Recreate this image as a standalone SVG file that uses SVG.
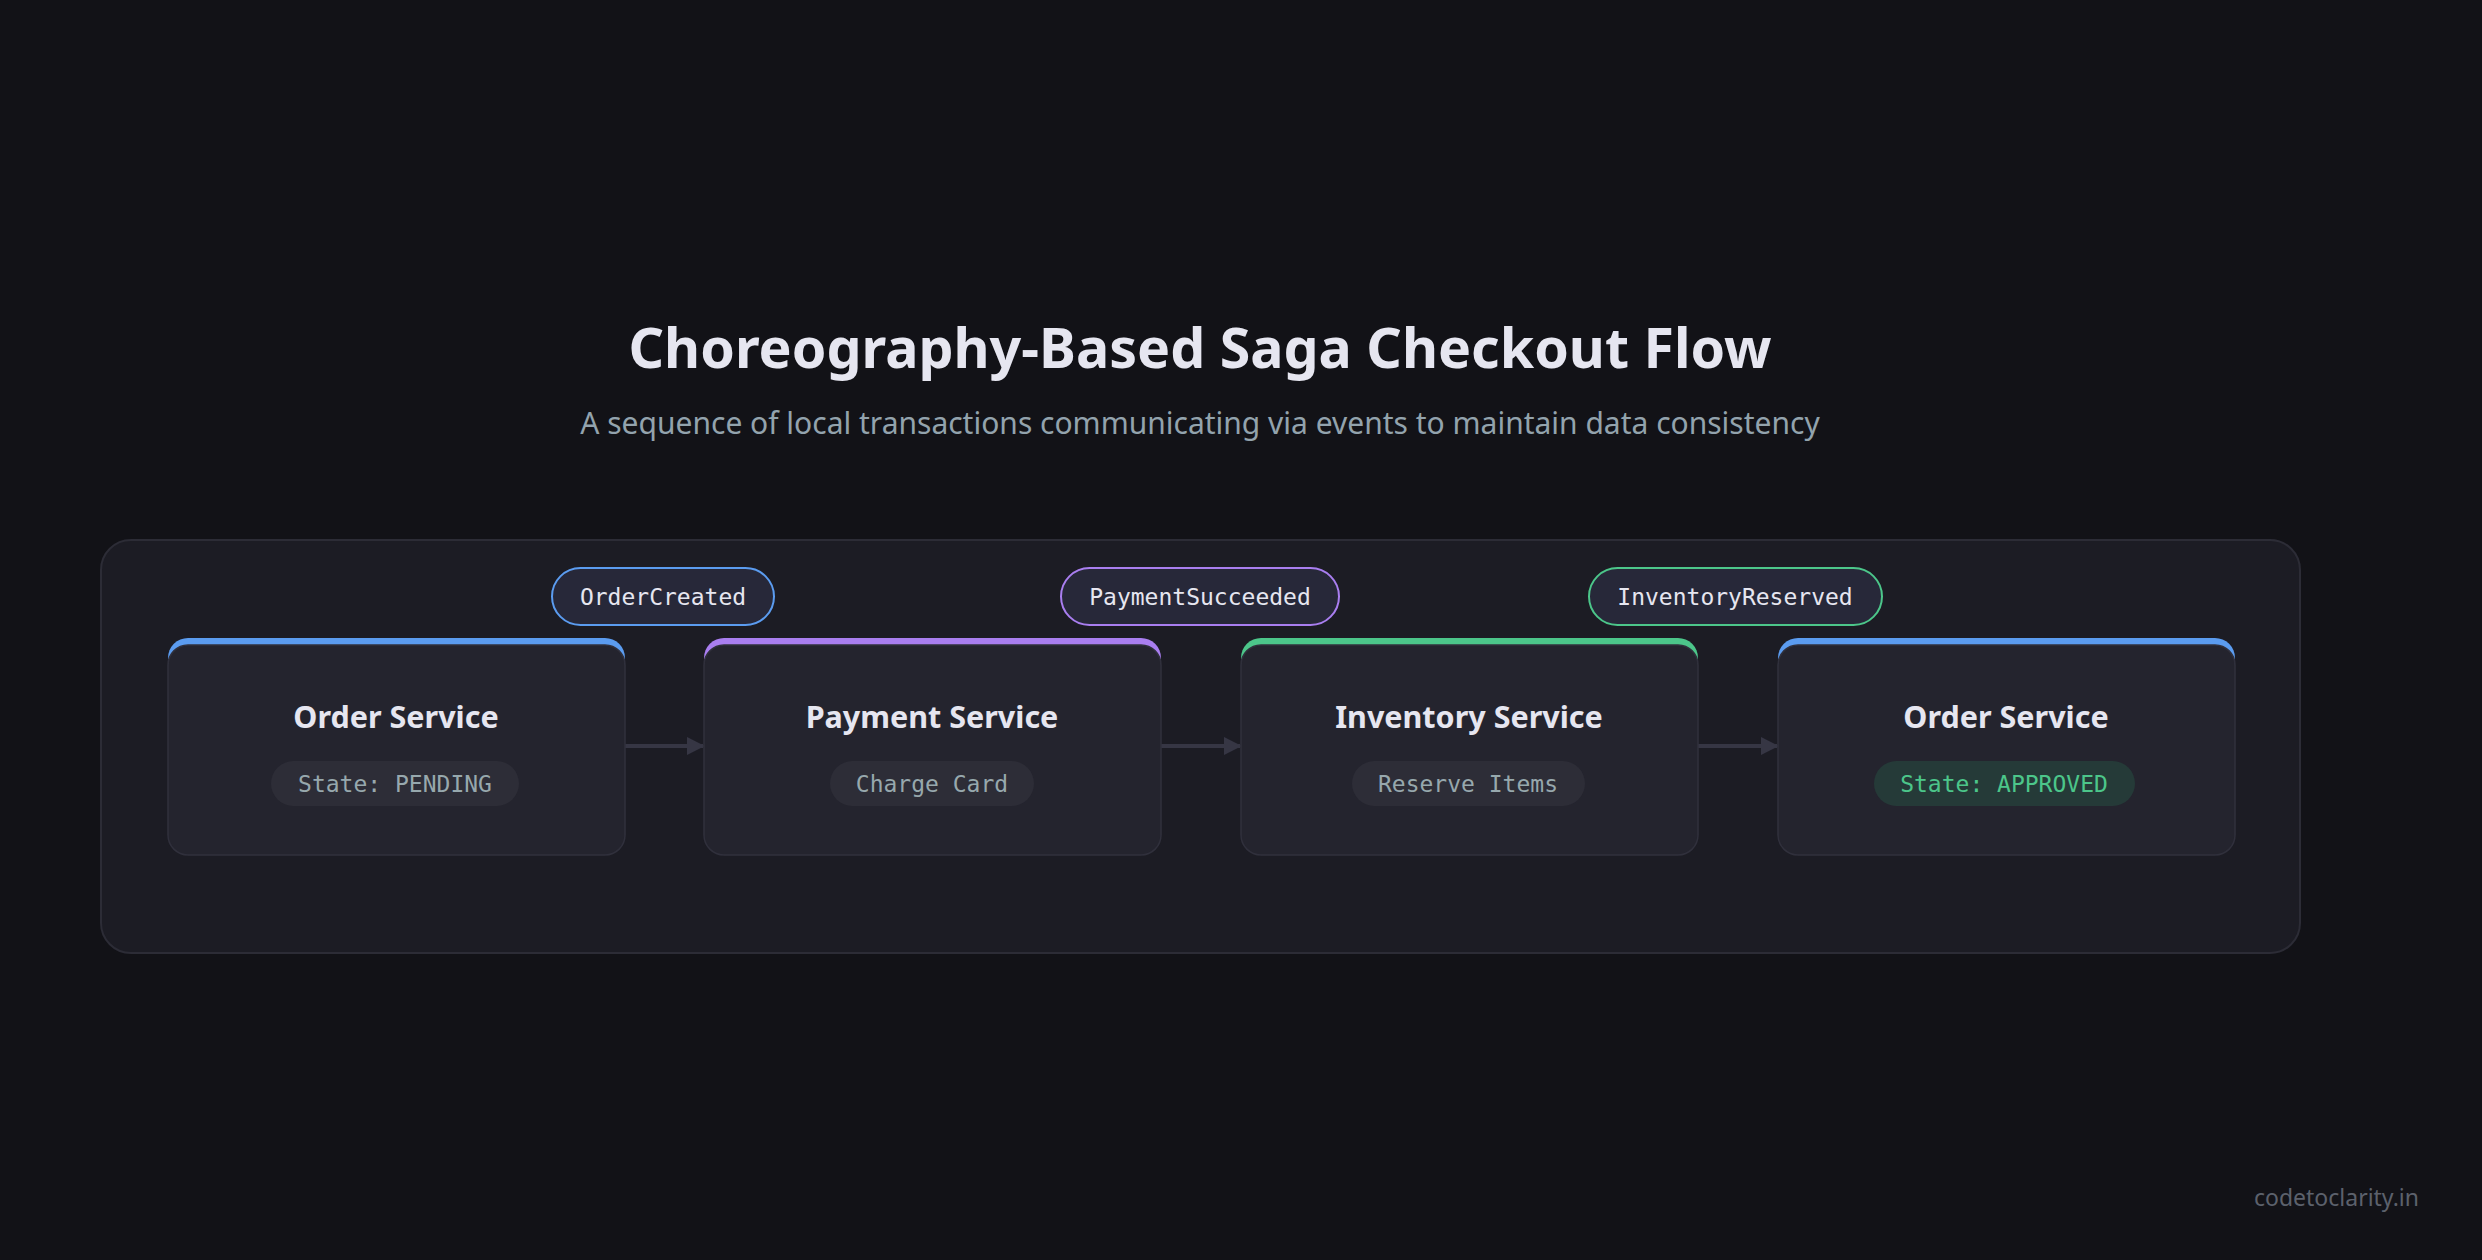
<svg xmlns="http://www.w3.org/2000/svg" width="2482" height="1260" viewBox="0 0 2482 1260">
<defs>
<style>
.title{font-family:"Noto Sans","Open Sans",sans-serif;font-weight:700;font-size:55.5px;fill:#e6e6f0;text-anchor:middle}
.sub{font-family:"Noto Sans","Open Sans",sans-serif;font-size:30px;fill:#93a3ad;text-anchor:middle}
.nt{font-family:"Noto Sans","Open Sans",sans-serif;font-weight:700;font-size:30.5px;fill:#e6e6f0;text-anchor:middle}
.mono{font-family:"DejaVu Sans Mono","Liberation Mono",monospace;font-size:23px;text-anchor:middle}
.body{fill:#24242e;stroke:#30303c;stroke-width:1.5}
.pill{fill:#2d2d37}
.ev{fill:#272839;stroke-width:2}
.wm{font-family:"Noto Sans","Open Sans",sans-serif;font-size:23px;fill:#5c616c;text-anchor:end}
</style>
<marker id="ah" viewBox="0 0 10 10" refX="9" refY="5" markerWidth="4.5" markerHeight="4.5" orient="auto" markerUnits="strokeWidth"><path d="M0,0 L10,5 L0,10 z" fill="#363644"/></marker>
</defs>
<rect width="2482" height="1260" fill="#121217"/>
<text class="title" x="1200" y="368">Choreography-Based Saga Checkout Flow</text>
<text class="sub" x="1200" y="434">A sequence of local transactions communicating via events to maintain data consistency</text>
<rect x="101" y="540" width="2199" height="413" rx="30" fill="#1c1c24" stroke="#2c2c36" stroke-width="2"/>
<g id="connectors" stroke="#363644" stroke-width="4">
<line x1="625" y1="746" x2="703" y2="746" marker-end="url(#ah)"/>
<line x1="1161" y1="746" x2="1240" y2="746" marker-end="url(#ah)"/>
<line x1="1698" y1="746" x2="1777" y2="746" marker-end="url(#ah)"/>
</g>
<g id="node1">
<rect x="168" y="638" width="457" height="60" rx="20" fill="#5b9cf0"/>
<rect class="body" x="168" y="645" width="457" height="210" rx="20"/>
<text class="nt" x="396" y="728">Order Service</text>
<rect class="pill" x="271" y="761" width="248" height="45" rx="22.5"/>
<text class="mono" x="395" y="792" fill="#97a8ad">State: PENDING</text>
</g>
<g id="node2">
<rect x="704" y="638" width="457" height="60" rx="20" fill="#a97ef0"/>
<rect class="body" x="704" y="645" width="457" height="210" rx="20"/>
<text class="nt" x="932" y="728">Payment Service</text>
<rect class="pill" x="830" y="761" width="204" height="45" rx="22.5"/>
<text class="mono" x="932" y="792" fill="#97a8ad">Charge Card</text>
</g>
<g id="node3">
<rect x="1241" y="638" width="457" height="60" rx="20" fill="#4cc68a"/>
<rect class="body" x="1241" y="645" width="457" height="210" rx="20"/>
<text class="nt" x="1469" y="728">Inventory Service</text>
<rect class="pill" x="1352" y="761" width="233" height="45" rx="22.5"/>
<text class="mono" x="1468" y="792" fill="#97a8ad">Reserve Items</text>
</g>
<g id="node4">
<rect x="1778" y="638" width="457" height="60" rx="20" fill="#5b9cf0"/>
<rect class="body" x="1778" y="645" width="457" height="210" rx="20"/>
<text class="nt" x="2006" y="728">Order Service</text>
<rect x="1874" y="761" width="261" height="45" rx="22.5" fill="#253a38"/>
<text class="mono" x="2004" y="792" fill="#4cc68a">State: APPROVED</text>
</g>
<g id="ev1">
<rect class="ev" x="552" y="568" width="222" height="57" rx="28.5" stroke="#5b9cf0"/>
<text class="mono" x="663" y="605" fill="#e6e6f0">OrderCreated</text>
</g>
<g id="ev2">
<rect class="ev" x="1061" y="568" width="278" height="57" rx="28.5" stroke="#a97ef0"/>
<text class="mono" x="1200" y="605" fill="#e6e6f0">PaymentSucceeded</text>
</g>
<g id="ev3">
<rect class="ev" x="1589" y="568" width="293" height="57" rx="28.5" stroke="#4cc68a"/>
<text class="mono" x="1735" y="605" fill="#e6e6f0">InventoryReserved</text>
</g>
<text class="wm" x="2419" y="1206">codetoclarity.in</text>
</svg>
